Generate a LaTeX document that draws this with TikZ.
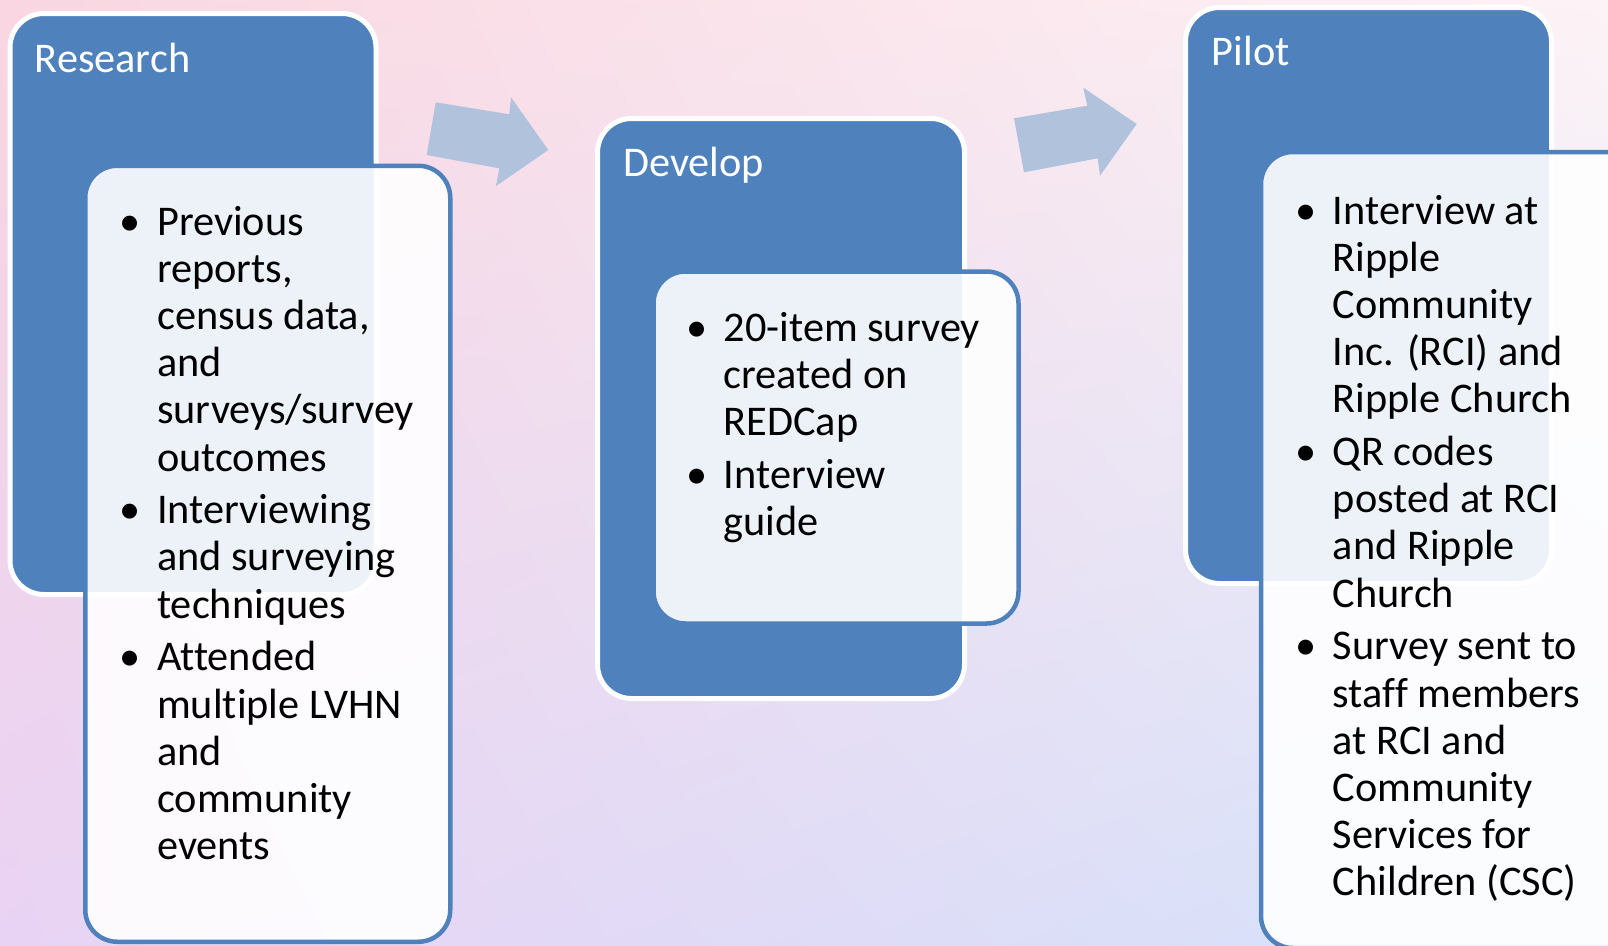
\documentclass[tikz,border=0pt]{standalone}
\usepackage{fontspec}
\setmainfont[Ligatures=NoCommon]{Carlito}
\usetikzlibrary{shadings}
\definecolor{accent}{RGB}{79,129,189}
\definecolor{arrowc}{RGB}{176,194,220}
\definecolor{bgTL}{RGB}{249,214,225}
\definecolor{bgTR}{RGB}{253,243,246}
\definecolor{bgBL}{RGB}{233,211,244}
\definecolor{bgBR}{RGB}{213,228,250}
\newcommand{\bitem}[1]{\par\hangindent=27pt\hangafter=1\noindent\makebox[27pt][l]{\makebox[0pt][c]{\textbullet}}#1\par}
\newcommand{\blist}[1]{\begin{minipage}[t]{600pt}\fontsize{42.3}{47.2}\selectfont\rightskip=0pt plus 1fil\parskip=5.5pt\relax #1\end{minipage}}
\tikzset{
  stagebox/.style={draw=white, line width=5pt, fill=accent, rounded corners=34pt, inner sep=0pt, outer sep=0pt, anchor=north west},
  detailbox/.style={draw=accent, line width=4.5pt, fill=white, fill opacity=0.9, rounded corners=32pt, inner sep=0pt, outer sep=0pt, anchor=north west},
  stagetitle/.style={text=white, font=\fontsize{42.3}{50}\selectfont, anchor=base west, inner sep=0pt},
  bullettext/.style={anchor=base west, inner sep=0pt, text=black},
  blockarrow/.style={fill=arrowc, draw=none},
}
\begin{document}
\begin{tikzpicture}[x=1pt,y=-1pt]
\useasboundingbox (0,0) rectangle (1608,945);
\clip (0,0) rectangle (1608,945);
\shade[upper left=bgTL, upper right=bgTR, lower left=bgBL, lower right=bgBR] (0,0) rectangle (1608,945);

% block arrows
\path[blockarrow] (435.7,102.3) -- (509.3,114.3) -- (511,97.3) -- (548.3,150) -- (496,186) -- (499.3,168.3) -- (426.7,155) -- cycle;
\path[blockarrow] (1014,118.3) -- (1087.3,105.7) -- (1083.3,87.7) -- (1136.7,124) -- (1100,175.7) -- (1097.7,158.3) -- (1024,172.3) -- cycle;

% Research
\node[stagebox, minimum width=366pt, minimum height=581pt] (research) at (10,13.5) {};
\node[detailbox, minimum width=365pt, minimum height=776pt] (researchd) at (85.25,165.75) {};
% Develop
\node[stagebox, minimum width=367pt, minimum height=580pt] (develop) at (597.5,118.5) {};
\node[detailbox, minimum width=365pt, minimum height=352pt] (developd) at (653.5,271.5) {};
% Pilot
\node[stagebox, minimum width=366pt, minimum height=576pt] (pilot) at (1185.5,7.5) {};
\node[detailbox, minimum width=420pt, minimum height=796pt] (pilotd) at (1261,152) {};

% titles
\node[stagetitle] (researcht) at (34.6,72.7) {Research};
\node[stagetitle] (developt) at (623,176.7) {Develop};
\node[stagetitle] (pilott) at (1211.7,65) {Pilot};

% bullet texts
\node[bullettext] (researchl) at (130,235) {\blist{%
\bitem{Previous\\reports,\\census data,\\and\\surveys/survey\\outcomes}%
\bitem{Interviewing\\and surveying\\techniques}%
\bitem{Attended\\multiple LVHN\\and\\community\\events}}};
\node[bullettext] (developl) at (696.6,341) {\blist{%
\bitem{20-item survey\\created on\\REDCap}%
\bitem{Interview\\guide}}};
\node[bullettext] (pilotl) at (1305.7,224) {\blist{%
\bitem{Interview at\\Ripple\\Community\\Inc. (RCI) and\\Ripple Church}%
\bitem{QR codes\\posted at RCI\\and Ripple\\Church}%
\bitem{Survey sent to\\staff members\\at RCI and\\Community\\Services for\\Children (CSC)}}};
\end{tikzpicture}
\end{document}
